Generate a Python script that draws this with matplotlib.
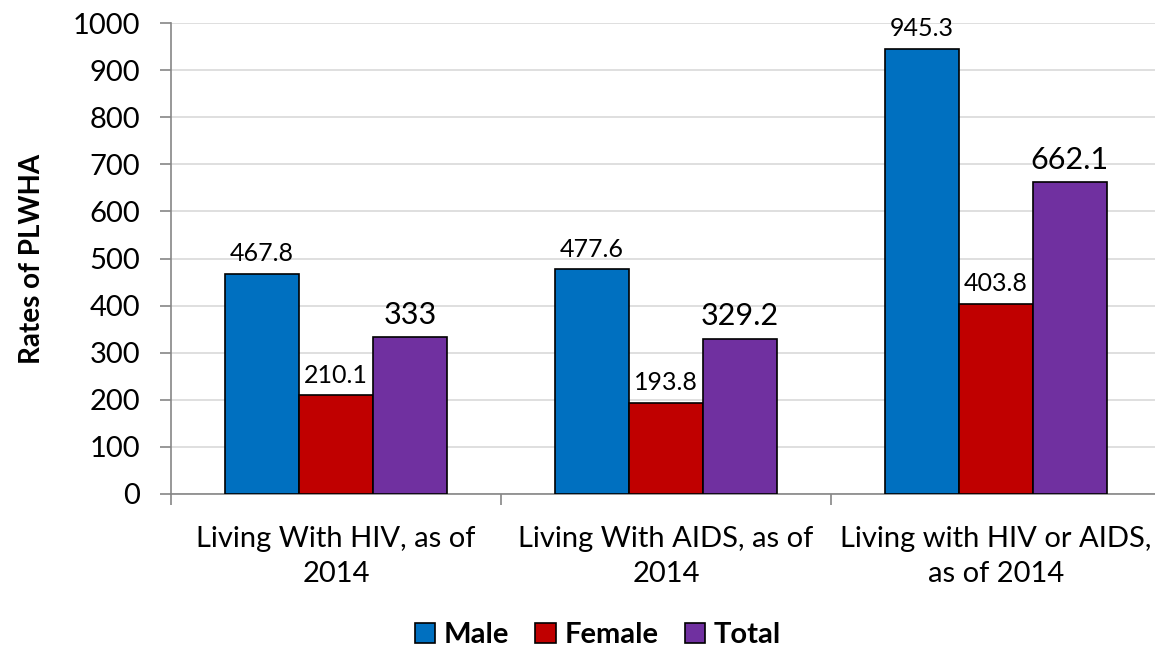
import matplotlib
matplotlib.use('Agg')
import matplotlib.pyplot as plt
from matplotlib.patches import Patch
import numpy as np

plt.rcParams['font.family'] = ['Lato', 'DejaVu Sans']

categories = ['Living With HIV, as of\n2014', 'Living With AIDS, as of\n2014', 'Living with HIV or AIDS,\nas of 2014']
male = [467.8, 477.6, 945.3]
female = [210.1, 193.8, 403.8]
total = [333, 329.2, 662.1]
series_names = ['Male', 'Female', 'Total']
colors = ['#0070C0', '#C00000', '#7030A0']

fig = plt.figure(figsize=(11.55, 6.5), dpi=100)
ax = fig.add_axes([171 / 1155, 1 - 494 / 650, 990 / 1155, 471 / 650])

x = np.arange(len(categories))
w = 0.224
label_sizes = [18, 18, 22]
for i, (vals, name, c) in enumerate(zip([male, female, total], series_names, colors)):
    bars = ax.bar(x + (i - 1) * w, vals, w, color=c, edgecolor='black', linewidth=1.2, label=name, zorder=3)
    for b, v in zip(bars, vals):
        txt = f'{v:g}'
        ax.text(b.get_x() + b.get_width() / 2, v + 18, txt, ha='center', va='bottom',
                fontsize=label_sizes[i], color='black')

ax.set_xlim(-0.5, 2.5)
ax.set_ylim(0, 1000)
ax.set_yticks(np.arange(0, 1001, 100))
ax.yaxis.grid(True, color='#D9D9D9', linewidth=1.2, zorder=0)
ax.set_axisbelow(True)

for s in ['top', 'right']:
    ax.spines[s].set_visible(False)
for s in ['left', 'bottom']:
    ax.spines[s].set_color('#868686')
    ax.spines[s].set_linewidth(1.2)

ax.tick_params(axis='y', length=8, width=1.2, color='#868686', labelsize=21, pad=14)
ax.set_xticks([-0.5, 0.5, 1.5, 2.5])
ax.set_xticklabels([])
ax.tick_params(axis='x', length=8, width=1.2, color='#868686')
ax.set_xticks(x, minor=True)
ax.set_xticklabels(categories, minor=True, fontsize=21, linespacing=1.45)
ax.tick_params(axis='x', which='minor', length=0, pad=23)

ax.set_ylabel('Rates of PLWHA', fontsize=20, fontweight='bold', labelpad=20)

handles = [Patch(facecolor=c, edgecolor='black', linewidth=1.2) for c in colors]
fig.legend(handles, series_names, loc='center', bbox_to_anchor=(598 / 1155, 1 - 635 / 650),
           ncol=3, frameon=False, prop={'size': 21, 'weight': 'bold'},
           handlelength=0.7, handleheight=0.7, handletextpad=0.3, columnspacing=0.9)

fig.savefig('out.png', dpi=100)
